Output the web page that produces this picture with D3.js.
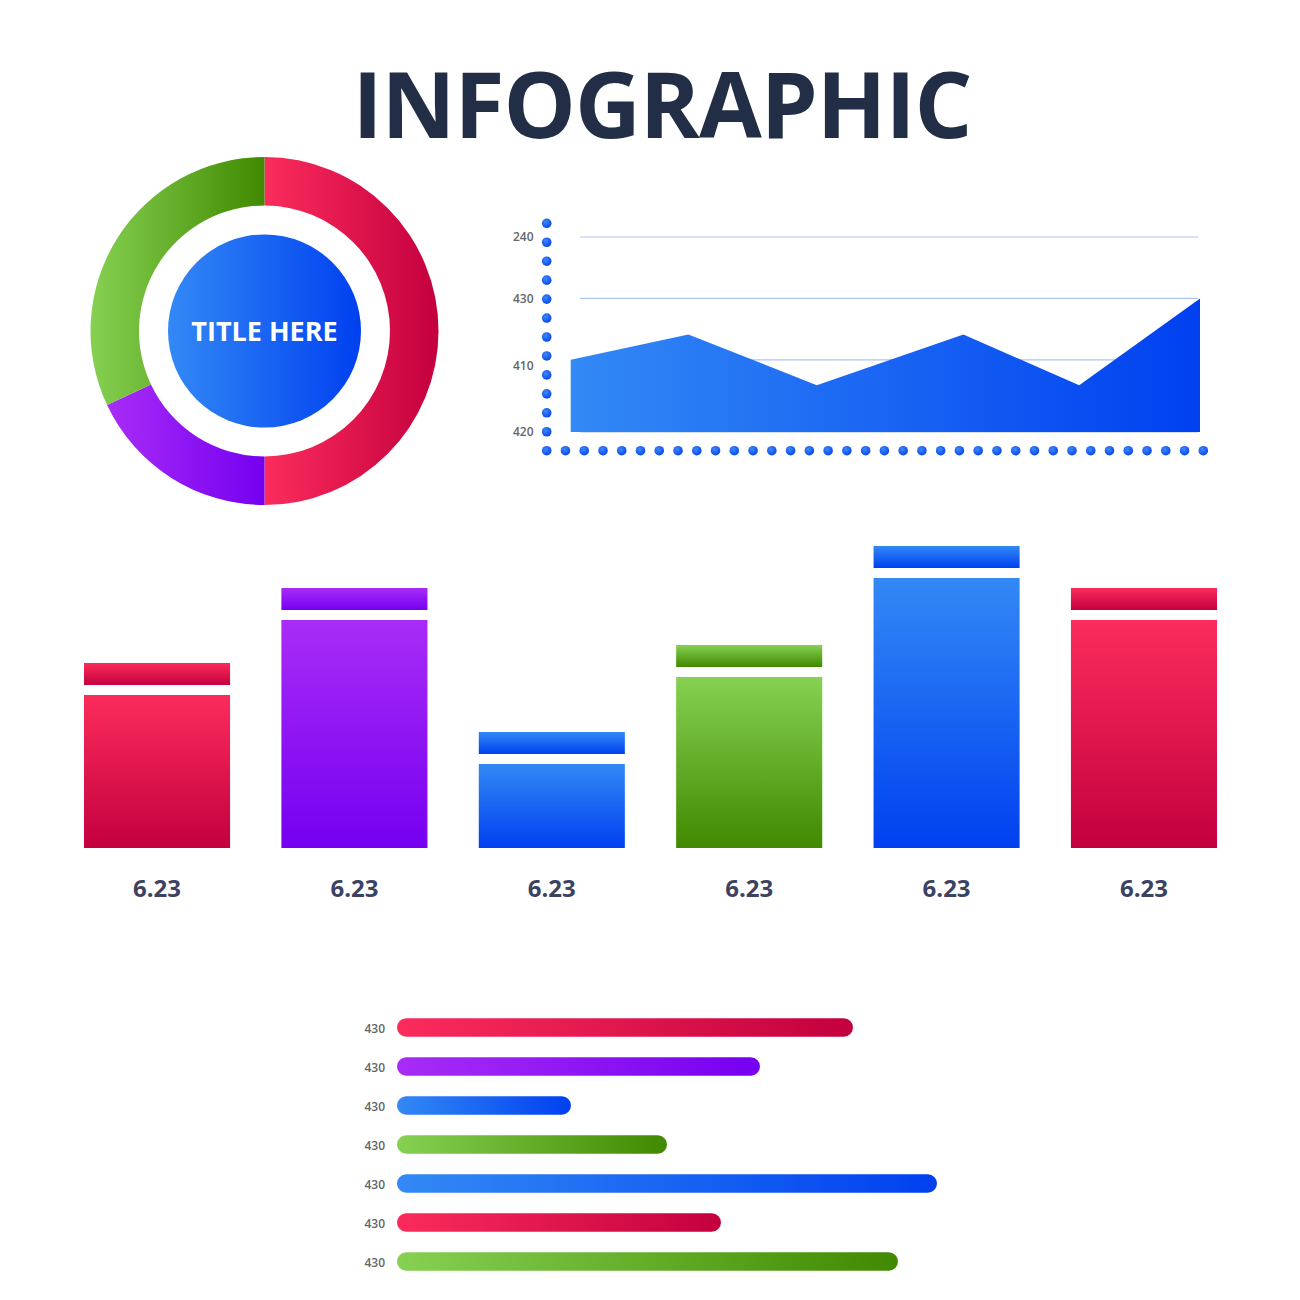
<!DOCTYPE html>
<html>
<head>
<meta charset="utf-8">
<script src="https://cdn.jsdelivr.net/npm/d3@7"></script>
<style>
  html, body { margin: 0; padding: 0; background: #ffffff; }
  svg { display: block; }
</style>
</head>
<body>
<script>
// ---------------- DATA ----------------
const titleText = "INFOGRAPHIC";
const donutLabel = "TITLE HERE";
const donutCategories = ["Segment A", "Segment B", "Segment C"];
const donutValues = [50, 18, 32];
const donutColors = ["red", "purple", "green"];

const areaX = [0, 1.87, 3.91, 6.24, 8.08, 10];
const areaValues = [37, 50, 24, 50, 24, 68.5];
const areaTickValues = [100, 68.5, 37, 0];
const areaTickLabels = ["240", "430", "410", "420"];

const barCategories = ["C1", "C2", "C3", "C4", "C5", "C6"];
const barValues = [51, 76, 28, 57, 90, 76];
const barLabels = ["6.23", "6.23", "6.23", "6.23", "6.23", "6.23"];
const barColors = ["red", "purple", "blue", "green", "blue", "red"];

const hbarLabels = ["430", "430", "430", "430", "430", "430", "430"];
const hbarValues = [76, 60.5, 29, 45, 90, 54, 83.5];
const hbarColors = ["red", "purple", "blue", "green", "blue", "red", "green"];

const palette = {
  red:    ["#fb2c5c", "#c3003e"],
  purple: ["#a82cf6", "#7500f0"],
  blue:   ["#3389f5", "#0040f0"],
  green:  ["#86d152", "#408900"]
};

// ---------------- SETUP ----------------
const W = 1300, H = 1300;
const FONT = "'Open Sans', 'Noto Sans', sans-serif";
const svg = d3.select("body").append("svg")
  .attr("width", W).attr("height", H).attr("viewBox", `0 0 ${W} ${H}`);
const defs = svg.append("defs");

function grad(id, colors, vertical) {
  const g = defs.append("linearGradient").attr("id", id)
    .attr("x1", 0).attr("y1", 0)
    .attr("x2", vertical ? 0 : 1).attr("y2", vertical ? 1 : 0);
  g.append("stop").attr("offset", "0%").attr("stop-color", colors[0]);
  g.append("stop").attr("offset", "100%").attr("stop-color", colors[1]);
  return `url(#${id})`;
}
Object.entries(palette).forEach(([k, c]) => {
  grad("h-" + k, c, false);
  grad("v-" + k, c, true);
});
const dotGrad = defs.append("radialGradient").attr("id", "dotg")
  .attr("cx", "40%").attr("cy", "35%").attr("r", "65%");
dotGrad.append("stop").attr("offset", "0%").attr("stop-color", "#3c8af6");
dotGrad.append("stop").attr("offset", "100%").attr("stop-color", "#0a47ef");

// ---------------- TITLE ----------------
svg.append("text")
  .attr("x", 662).attr("y", 138)
  .attr("text-anchor", "middle")
  .attr("font-family", FONT).attr("font-weight", 700)
  .attr("font-size", 91).attr("letter-spacing", -1)
  .attr("fill", "#212e45")
  .text(titleText);

// ---------------- DONUT ----------------
const donutG = svg.append("g").attr("transform", "translate(264.5,331)");
const pie = d3.pie().sort(null).value(d => d.v);
const arc = d3.arc().innerRadius(125.5).outerRadius(174);
donutG.selectAll("path.seg")
  .data(pie(donutValues.map((v, i) => ({ v, c: donutColors[i], name: donutCategories[i] }))))
  .join("path")
  .attr("class", "seg")
  .attr("d", arc)
  .attr("fill", d => `url(#h-${d.data.c})`);
donutG.append("circle").attr("r", 96.5).attr("fill", "url(#h-blue)");
donutG.append("text")
  .attr("y", 10)
  .attr("text-anchor", "middle")
  .attr("font-family", FONT).attr("font-weight", 700)
  .attr("font-size", 27).attr("fill", "#ffffff")
  .text(donutLabel);

// ---------------- AREA CHART ----------------
const ax = d3.scaleLinear().domain([0, 10]).range([570.7, 1200]);
const ay = d3.scaleLinear().domain([0, 100]).range([432, 237]);
const areaG = svg.append("g");

// grid lines
areaG.selectAll("line.grid")
  .data(areaTickValues)
  .join("line")
  .attr("class", "grid")
  .attr("x1", 580).attr("x2", 1198)
  .attr("y1", d => ay(d)).attr("y2", d => ay(d))
  .attr("stroke", "#a9c5f7").attr("stroke-width", 1.2);

// area
const areaGen = d3.area()
  .x((d, i) => ax(areaX[i]))
  .y0(ay(0))
  .y1(d => ay(d));
areaG.append("path")
  .datum(areaValues)
  .attr("d", areaGen)
  .attr("fill", "url(#h-blue)");

// tick labels
areaG.selectAll("text.tick")
  .data(areaTickValues)
  .join("text")
  .attr("class", "tick")
  .attr("x", 533.5)
  .attr("y", (d, i) => ay(d) + (i === 2 ? 5.5 : 0))
  .attr("dy", "0.36em")
  .attr("text-anchor", "end")
  .attr("font-family", FONT).attr("font-weight", 600)
  .attr("font-size", 12).attr("fill", "#666666")
  .text((d, i) => areaTickLabels[i]);

// dotted axes
const yDots = d3.range(13).map(i => 223.3 + i * 18.95);
const xDots = d3.range(36).map(i => 546.7 + i * 18.76);
areaG.selectAll("circle.yd").data(yDots).join("circle")
  .attr("class", "yd").attr("cx", 546.7).attr("cy", d => d).attr("r", 4.8)
  .attr("fill", "url(#dotg)");
areaG.selectAll("circle.xd").data(xDots.slice(1)).join("circle")
  .attr("class", "xd").attr("cx", d => d).attr("cy", 450.7).attr("r", 4.8)
  .attr("fill", "url(#dotg)");

// ---------------- VERTICAL BARS ----------------
const bx = d3.scaleBand().domain(barCategories).range([84, 1217]).paddingInner(0.26).paddingOuter(0);
const by = d3.scaleLinear().domain([0, 100]).range([848, 548]);
const barG = svg.append("g");
const capGap = 10, capH = 22;

barG.selectAll("rect.body")
  .data(barValues)
  .join("rect")
  .attr("class", "body")
  .attr("x", (d, i) => bx(barCategories[i]))
  .attr("width", bx.bandwidth())
  .attr("y", d => by(d))
  .attr("height", d => by(0) - by(d))
  .attr("fill", (d, i) => `url(#v-${barColors[i]})`);

barG.selectAll("rect.cap")
  .data(barValues)
  .join("rect")
  .attr("class", "cap")
  .attr("x", (d, i) => bx(barCategories[i]))
  .attr("width", bx.bandwidth())
  .attr("y", d => by(d) - capGap - capH)
  .attr("height", capH)
  .attr("fill", (d, i) => `url(#v-${barColors[i]})`);

barG.selectAll("text.blab")
  .data(barLabels)
  .join("text")
  .attr("class", "blab")
  .attr("x", (d, i) => bx(barCategories[i]) + bx.bandwidth() / 2)
  .attr("y", 897)
  .attr("text-anchor", "middle")
  .attr("font-family", FONT).attr("font-weight", 700)
  .attr("font-size", 24).attr("fill", "#3b4262")
  .text(d => d);

// ---------------- HORIZONTAL BARS ----------------
const hx = d3.scaleLinear().domain([0, 100]).range([397, 997]);
const hy = d3.scaleBand().domain(d3.range(hbarValues.length)).range([1008, 1281])
  .paddingInner(0.53).paddingOuter(0.265);
const hG = svg.append("g");

hG.selectAll("rect.hb")
  .data(hbarValues)
  .join("rect")
  .attr("class", "hb")
  .attr("x", hx(0))
  .attr("y", (d, i) => hy(i))
  .attr("width", d => hx(d) - hx(0))
  .attr("height", hy.bandwidth())
  .attr("rx", hy.bandwidth() / 2)
  .attr("fill", (d, i) => `url(#h-${hbarColors[i]})`);

hG.selectAll("text.hl")
  .data(hbarLabels)
  .join("text")
  .attr("class", "hl")
  .attr("x", 385)
  .attr("y", (d, i) => hy(i) + hy.bandwidth() / 2 + 1)
  .attr("dy", "0.36em")
  .attr("text-anchor", "end")
  .attr("font-family", FONT).attr("font-weight", 600)
  .attr("font-size", 12).attr("fill", "#666666")
  .text(d => d);
</script>
</body>
</html>
